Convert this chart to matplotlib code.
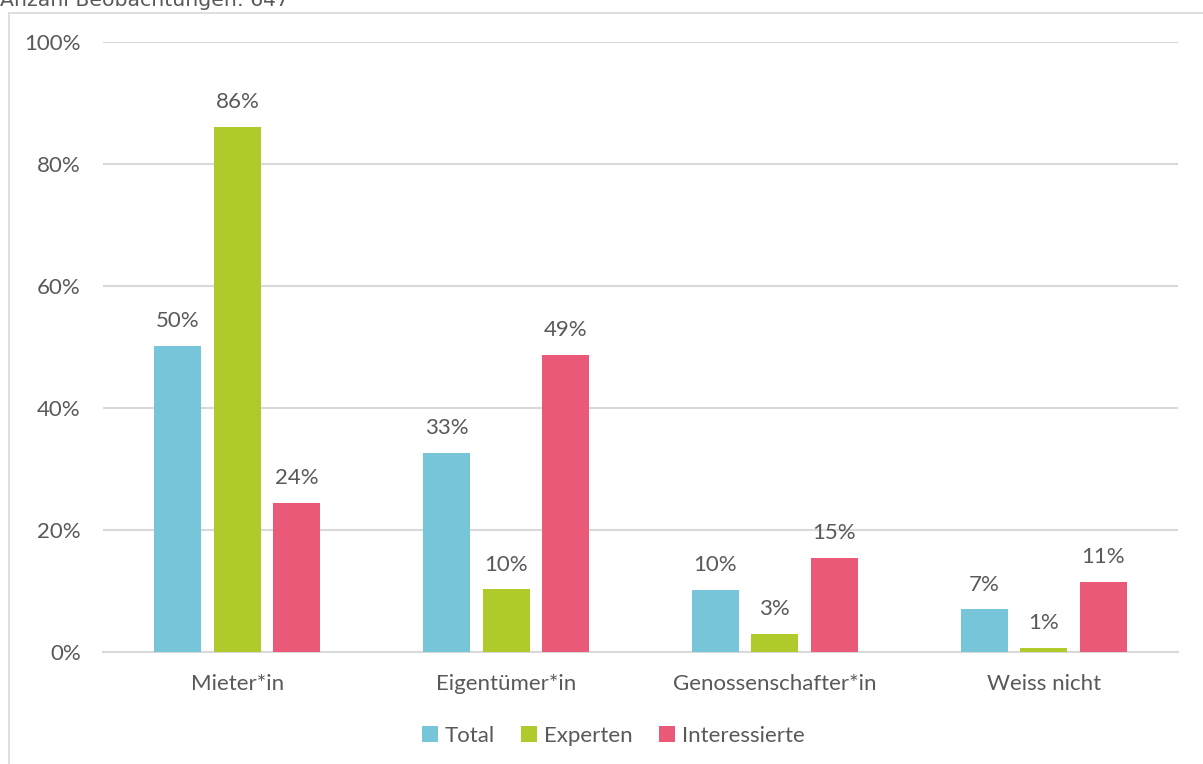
import matplotlib
matplotlib.use("Agg")
import matplotlib.pyplot as plt
from matplotlib.patches import Rectangle
import numpy as np

categories = ["Mieter*in", "Eigentümer*in", "Genossenschafter*in", "Weiss nicht"]
series_names = ["Total", "Experten", "Interessierte"]
total = [50.2, 32.6, 10.2, 7.0]
experten = [86.1, 10.3, 3.0, 0.7]
interessierte = [24.5, 48.7, 15.4, 11.5]
labels_total = ["50%", "33%", "10%", "7%"]
labels_experten = ["86%", "10%", "3%", "1%"]
labels_interessierte = ["24%", "49%", "15%", "11%"]
yticks = [0, 20, 40, 60, 80, 100]
ytick_labels = ["0%", "20%", "40%", "60%", "80%", "100%"]
note = "Anzahl Beobachtungen: 647"

colors = ["#77C5D8", "#AFCA2B", "#EA5A78"]
text_color = "#595959"
font = ["Lato", "DejaVu Sans"]
fs = 16

fig = plt.figure(figsize=(12.03, 7.64), dpi=100)
# outer frame
fig.patches.append(Rectangle((9/1203, -0.1), 1.2, 1 - 13/764 + 0.1, transform=fig.transFigure,
                             fill=False, edgecolor="#D9D9D9", linewidth=1.2))
fig.text(0.0, 1 - 6/764, note, fontsize=14.7, color=text_color, family=["DejaVu Sans"], va="baseline", ha="left")

ax = fig.add_axes([103/1203, 1 - 652/764, 1075/1203, 610/764])
x = np.arange(len(categories))
width = 0.175
step = 0.221
series = [total, experten, interessierte]
labels = [labels_total, labels_experten, labels_interessierte]
for i, (vals, labs) in enumerate(zip(series, labels)):
    pos = x + (i - 1) * step
    ax.bar(pos, vals, width=width, color=colors[i], label=series_names[i], zorder=3)
    for p, v, l in zip(pos, vals, labs):
        ax.text(p, v + 2.4, l, ha="center", va="bottom", fontsize=fs, color=text_color, family=font)

ax.set_xlim(-0.5, len(categories) - 0.5)
ax.set_ylim(0, 100)
ax.set_yticks(yticks)
ax.set_yticklabels(ytick_labels, family=font, fontsize=fs, color=text_color)
ax.set_xticks(x)
ax.set_xticklabels(categories, family=font, fontsize=fs, color=text_color)
ax.tick_params(axis="y", length=0, pad=16)
ax.tick_params(axis="x", length=0, pad=16)
ax.yaxis.grid(True, color="#D9D9D9", linewidth=1.5, zorder=0)
for s in ["top", "right", "left"]:
    ax.spines[s].set_visible(False)
ax.spines["bottom"].set_color("#D9D9D9")
ax.spines["bottom"].set_linewidth(1.5)

leg = fig.legend(loc="center", bbox_to_anchor=(613/1203, 1 - 736/764), ncol=3, frameon=False,
                 prop={"family": font, "size": fs}, handlelength=0.72, handleheight=0.72,
                 handletextpad=0.3, columnspacing=1.2)
for t in leg.get_texts():
    t.set_color(text_color)

fig.savefig("out.png", dpi=100)
